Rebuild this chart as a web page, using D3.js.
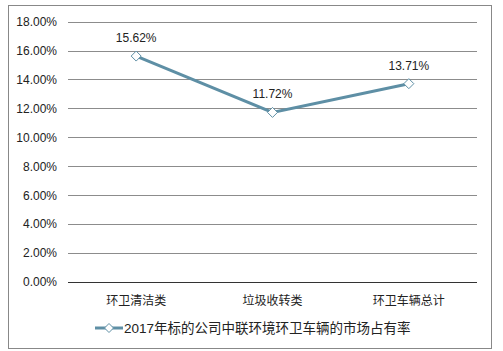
<!DOCTYPE html>
<html>
<head>
<meta charset="utf-8">
<script src="https://cdn.jsdelivr.net/npm/d3@7"></script>
<style>
  body { margin: 0; background: #fff; }
  text { font-family: "Liberation Sans", Arial, "Noto Sans CJK SC", sans-serif; fill: #222; }
</style>
</head>
<body>
<div id="chart"></div>
<script>
const categories = ['环卫清洁类', '垃圾收转类', '环卫车辆总计']
const values = [15.62, 11.72, 13.71]
const yTicks = [0, 2, 4, 6, 8, 10, 12, 14, 16, 18]
const seriesName = '2017年标的公司中联环境环卫车辆的市场占有率'

const width = 503
const height = 351
const margin = { top: 21.7, left: 68, right: 26, bottom: 69.3 }
const lineColor = '#5e8fa5'

const svg = d3.select('#chart')
  .append('svg')
  .attr('width', width)
  .attr('height', height)

// outer frame
svg.append('rect')
  .attr('x', 8.5).attr('y', 5.5)
  .attr('width', 483).attr('height', 343)
  .attr('fill', 'none')
  .attr('stroke', '#888')

const x = d3.scaleBand()
  .domain(categories)
  .range([margin.left, width - margin.right])

const y = d3.scaleLinear()
  .domain([0, 18])
  .range([height - margin.bottom, margin.top])

// gridlines
svg.append('g')
  .selectAll('line')
  .data(yTicks)
  .enter()
  .append('line')
  .attr('x1', margin.left)
  .attr('x2', width - margin.right)
  .attr('y1', d => Math.round(y(d)) + 0.5)
  .attr('y2', d => Math.round(y(d)) + 0.5)
  .attr('stroke', d => d === 0 ? '#333' : '#8c8c8c')
  .attr('stroke-width', 1)

// y tick labels
svg.append('g')
  .selectAll('text')
  .data(yTicks)
  .enter()
  .append('text')
  .attr('x', 57)
  .attr('y', d => y(d) + 4.5)
  .attr('text-anchor', 'end')
  .style('font-size', '12px')
  .text(d => d.toFixed(2) + '%')

// x labels
svg.append('g')
  .selectAll('text')
  .data(categories)
  .enter()
  .append('text')
  .attr('x', d => x(d) + x.bandwidth() / 2)
  .attr('y', 304.5)
  .attr('text-anchor', 'middle')
  .style('font-size', '12px')
  .text(d => d)

const points = categories.map((c, i) => ({ cat: c, val: values[i] }))

const line = d3.line()
  .x(d => x(d.cat) + x.bandwidth() / 2)
  .y(d => y(d.val))

svg.append('path')
  .datum(points)
  .attr('d', line)
  .attr('fill', 'none')
  .attr('stroke', lineColor)
  .attr('stroke-width', 3)

const diamond = 'M0,-5L5,0L0,5L-5,0Z'

svg.append('g')
  .selectAll('path')
  .data(points)
  .enter()
  .append('path')
  .attr('d', diamond)
  .attr('transform', d => `translate(${x(d.cat) + x.bandwidth() / 2},${y(d.val)})`)
  .attr('fill', '#fff')
  .attr('stroke', lineColor)
  .attr('stroke-width', 1)

// value labels
svg.append('g')
  .selectAll('text')
  .data(points)
  .enter()
  .append('text')
  .attr('x', d => x(d.cat) + x.bandwidth() / 2)
  .attr('y', d => y(d.val) - 14)
  .attr('text-anchor', 'middle')
  .style('font-size', '12px')
  .text(d => d.val.toFixed(2) + '%')

// legend
const legend = svg.append('g').attr('transform', 'translate(95,328)')
legend.append('line')
  .attr('x1', 0).attr('x2', 28)
  .attr('y1', 0).attr('y2', 0)
  .attr('stroke', lineColor)
  .attr('stroke-width', 3)
legend.append('path')
  .attr('d', 'M0,-4.5L4.5,0L0,4.5L-4.5,0Z')
  .attr('transform', 'translate(14,0)')
  .attr('fill', '#fff')
  .attr('stroke', lineColor)
legend.append('text')
  .attr('x', 29)
  .attr('y', 5)
  .style('font-size', '13.5px')
  .text(seriesName)
</script>
</body>
</html>
